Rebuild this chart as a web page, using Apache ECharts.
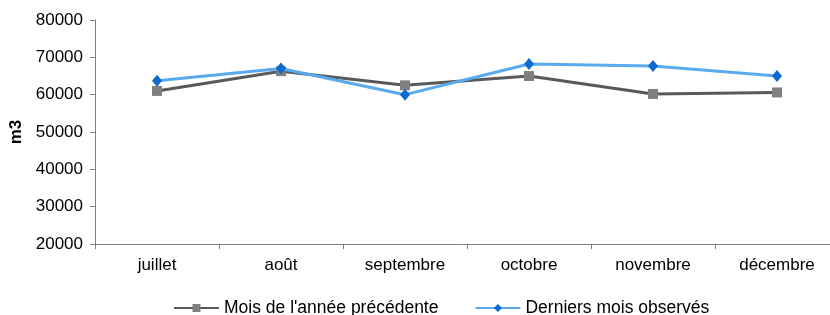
<!DOCTYPE html>
<html>
<head>
<meta charset="utf-8">
<script src="https://cdn.jsdelivr.net/npm/echarts@6/dist/echarts.min.js"></script>
<style>
  html, body { margin: 0; padding: 0; background: #fff; }
  #chart { width: 830px; height: 315px; }
</style>
</head>
<body>
<div id="chart"></div>
<script>
const months = ['juillet', 'août', 'septembre', 'octobre', 'novembre', 'décembre']
const previousYear = [61000, 66300, 62500, 65000, 60200, 60600]
const lastObserved = [63700, 67000, 60000, 68200, 67700, 65000]

const chart = echarts.init(document.getElementById('chart'))

const font = 'Liberation Sans, Arial, sans-serif'

chart.setOption({
  animation: false,
  backgroundColor: '#fff',
  textStyle: { fontFamily: font },
  grid: {
    left: 95,
    top: 20,
    width: 744,
    height: 224,
    containLabel: false,
    outerBoundsMode: 'none'
  },
  legend: {
    top: 294,
    left: 168,
    itemGap: 36,
    itemWidth: 45,
    itemHeight: 10,
    textStyle: { color: '#000', fontSize: 17.5, fontFamily: font },
    data: ["Mois de l'année précédente", 'Derniers mois observés']
  },
  xAxis: {
    type: 'category',
    data: months,
    boundaryGap: true,
    axisLine: { lineStyle: { color: '#808080', width: 1 } },
    axisTick: { show: true, length: 5, alignWithLabel: false, lineStyle: { color: '#808080' } },
    axisLabel: { color: '#000', fontSize: 17, margin: 13, fontFamily: font },
    splitLine: { show: false }
  },
  yAxis: {
    type: 'value',
    min: 20000,
    max: 80000,
    interval: 10000,
    name: 'm3',
    nameLocation: 'middle',
    nameGap: 69,
    nameRotate: 90,
    nameTextStyle: { color: '#000', fontSize: 17, fontWeight: 'bold', fontFamily: font },
    axisLine: { show: true, lineStyle: { color: '#808080', width: 1 } },
    axisTick: { show: true, length: 5, lineStyle: { color: '#808080' } },
    axisLabel: { color: '#000', fontSize: 17, margin: 12, fontFamily: font, formatter: v => String(v) },
    splitLine: { show: false }
  },
  series: [
    {
      name: "Mois de l'année précédente",
      type: 'line',
      data: previousYear,
      symbol: 'rect',
      symbolSize: 10,
      lineStyle: { color: '#595959', width: 3 },
      itemStyle: { color: '#808080', borderWidth: 0 },
      z: 2
    },
    {
      name: 'Derniers mois observés',
      type: 'line',
      data: lastObserved,
      symbol: 'diamond',
      symbolSize: [10, 12],
      lineStyle: { color: '#5aaaf0', width: 3 },
      itemStyle: { color: '#0a6acd', borderWidth: 0 },
      z: 3
    }
  ]
})
</script>
</body>
</html>
